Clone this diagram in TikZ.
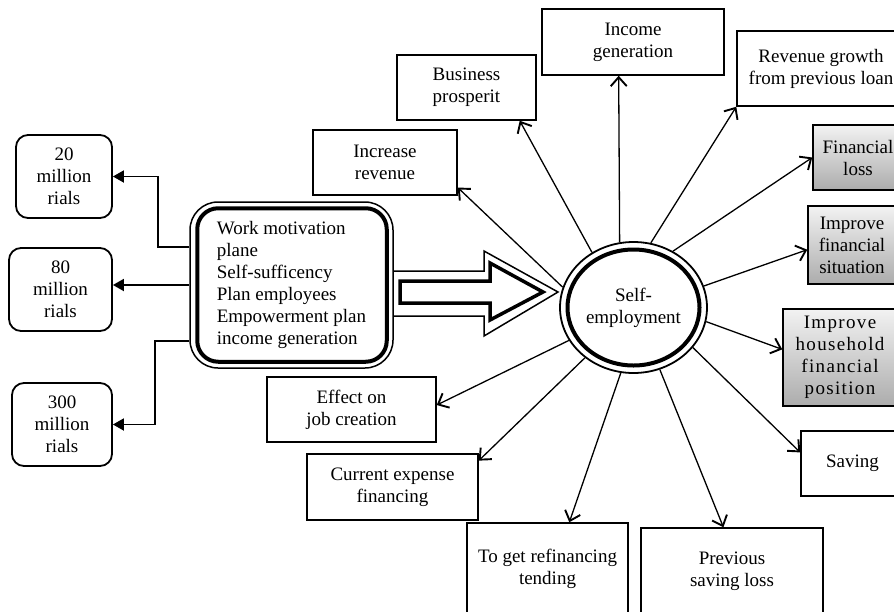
\documentclass[tikz,border=0pt]{standalone}
\usepackage{fontspec}
\setmainfont{Liberation Serif}
\newfontfamily\spaced[LetterSpace=7]{Liberation Serif}
\usetikzlibrary{arrows.meta,shapes.geometric}

\begin{document}
\begin{tikzpicture}[x=1pt,y=-1pt,
    font=\fontsize{19}{22}\selectfont,
    box/.style={draw, line width=1.5pt, align=center, inner sep=0pt},
    shbox/.style={box, top color=gray!10, bottom color=gray!65},
    money/.style={draw, line width=1.8pt, rounded corners=12pt, align=center, inner sep=0pt, minimum height=83},
    con/.style={line width=1.3pt, -{Straight Barb[length=9pt,width=16pt,line width=1.9pt]}},
    lcon/.style={line width=1.8pt, -{Triangle[length=11pt,width=12pt]}}]
    \clip (0,0) rectangle (894,611);

    % Credit amounts
    \foreach \nm/\x/\y/\w/\val in {
        m20/64/176.5/96/20,
        m80/60.5/289.5/103/80,
        m300/62/424.5/100/300
        } {
        \node[money, minimum width=\w] (\nm) at (\x,\y) {\val\\million\\rials};
    }

    % Plan box
    \node[draw, line width=1.5pt, rounded corners=28pt, minimum width=203, minimum height=166,
        align=left, inner sep=0pt] (main) at (291.5,285)
        {Work motivation\\plane\\Self-sufficency\\Plan employees\\Empowerment plan\\income generation};
    \draw[line width=4pt, rounded corners=21pt] ([xshift=8pt,yshift=-7pt]main.north west)
        rectangle ([xshift=-7pt,yshift=7pt]main.south east);

    \draw[lcon] ([yshift=38pt]main.west) -- ++(-31,0) |- (m20.east);
    \draw[lcon] (main.west) -- (main.west -| m80.east);
    \draw[lcon] ([yshift=-56pt]main.west) -- ++(-34,0) |- (m300.east);

    % Hollow arrow
    \draw[line width=1.5pt] (393,271) -- (484,271) -- (484,251) -- (558,292)
        -- (484,336) -- (484,316) -- (393,316);
    \draw[line width=3.5pt] (400,281) -- (490,281) -- (490,263) -- (543,292)
        -- (490,320) -- (490,303) -- (400,303) -- cycle;

    % Self-employment
    \node[ellipse, draw, line width=1.8pt, minimum width=147, minimum height=131,
        inner sep=0pt, align=center] (self) at (633.5,307.5) {Self-\\employment};
    \draw[line width=4pt] (self.center) ellipse [x radius=66, y radius=58];

    % Outcomes
    \node[box, minimum width=144, minimum height=65] (inc) at (385,162.5) {Increase\\revenue};
    \node[box, minimum width=139, minimum height=65] (bus) at (466.5,87.5) {Business\\prosperit};
    \node[box, minimum width=182, minimum height=66] (igen) at (633,42) {Income\\generation};
    \node[box, minimum width=168, minimum height=75] (rev) at (821,68.5) {Revenue growth\\from previous loan};
    \node[shbox, minimum width=90, minimum height=65] (floss) at (858,157.5) {Financial\\loss};
    \node[shbox, minimum width=88, minimum height=78] (fsit) at (852,245) {Improve\\financial\\situation};
    \node[shbox, minimum width=114, minimum height=97, font=\fontsize{19}{22}\spaced] (hh) at (840,357.5)
        {Improve\\household\\financial\\position};
    \node[box, minimum width=103, minimum height=65] (sav) at (852.5,463.5) {Saving};
    \node[box, minimum width=182, minimum height=87] (prev) at (732,571.5) {Previous\\saving loss};
    \node[box, minimum width=161, minimum height=92] (refin) at (547.5,569) {To get refinancing\\tending};
    \node[box, minimum width=171, minimum height=66] (curr) at (392.5,487) {Current expense\\financing};
    \node[box, minimum width=169, minimum height=65] (eff) at (351.5,409.5) {Effect on\\job creation};

    \foreach \a/\nm/\anc in {
        164/inc/-19, 127/bus/-32, 102.3/igen/-113, 75.9/rev/south west,
        55.5/floss/west, 17.9/fsit/186, -11.2/hh/172.5, -34.2/sav/168.7,
        -67.7/prev/101.4, -101.3/refin/65.3, -134.4/curr/17.1, -153.3/eff/3
        } {
        \draw[con] (self.\a) -- (\nm.\anc);
    }
\end{tikzpicture}
\end{document}
